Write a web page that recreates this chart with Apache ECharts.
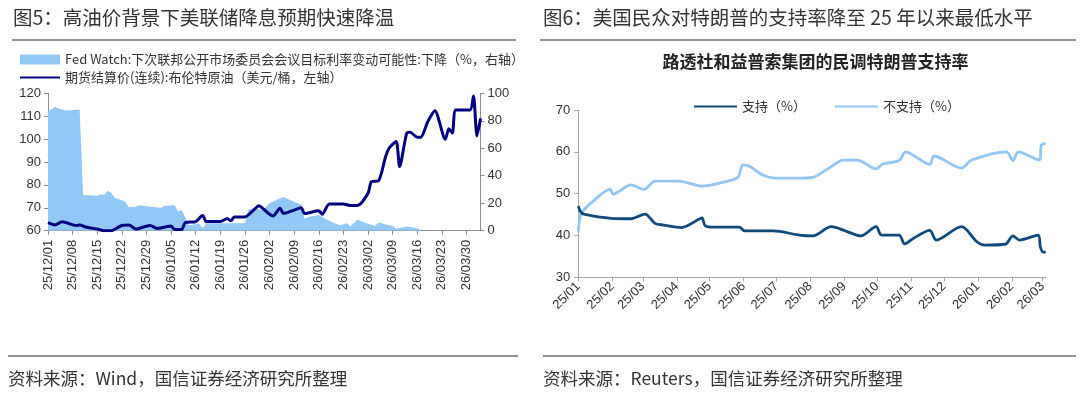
<!DOCTYPE html>
<html><head><meta charset="utf-8">
<script src="https://cdn.jsdelivr.net/npm/echarts@6/dist/echarts.min.js"></script>
<style>html,body{margin:0;padding:0;background:#fff}#c{width:1080px;height:394px}</style>
</head><body><div id="c"></div>
<script>
// ---------- Left chart (图5) ----------
const fedDates = ['25/12/01','25/12/03','25/12/04','25/12/06','25/12/09','25/12/10','25/12/11','25/12/15','25/12/16','25/12/17','25/12/18','25/12/19','25/12/20','25/12/23','25/12/24','25/12/26','25/12/27','25/12/30','26/01/01','26/01/02','26/01/03','26/01/06','26/01/07','26/01/08','26/01/09','26/01/10','26/01/13','26/01/14','26/01/15','26/01/26','26/01/27','26/01/29','26/01/31','26/02/02','26/02/04','26/02/06','26/02/09','26/02/11','26/02/12','26/02/13','26/02/16','26/02/18','26/02/20','26/02/22','26/02/24','26/02/25','26/02/27','26/03/02','26/03/04','26/03/05','26/03/07','26/03/09','26/03/10','26/03/13','26/03/16','26/03/17','26/03/18','26/04/03'];
const fedVals = [87,90,89,87.5,88,88,26,25.5,26.5,26,29,27.5,24,21,17,17.5,18.5,17.5,17,16.5,18,18.5,14,15,10,4,5,2,5.5,5.5,15.5,16.5,14.5,20,22.5,24.5,21,19,8.5,10,11.5,8.5,6,4,5.5,3,8,5,3.5,6,4.5,3.5,1.5,3,1.8,0.3,0,0];

const brentDates = ['25/12/01','25/12/03','25/12/05','25/12/09','25/12/10','25/12/12','25/12/15','25/12/17','25/12/19','25/12/22','25/12/24','25/12/26','25/12/30','26/01/01','26/01/05','26/01/06','26/01/08','26/01/09','26/01/12','26/01/14','26/01/15','26/01/19','26/01/21','26/01/22','26/01/23','26/01/26','26/01/28','26/01/30','26/01/31','26/02/03','26/02/05','26/02/06','26/02/09','26/02/11','26/02/12','26/02/16','26/02/17','26/02/19','26/02/23','26/02/25','26/02/27','26/03/02','26/03/03','26/03/05','26/03/07','26/03/08','26/03/10','26/03/11','26/03/13','26/03/14','26/03/16','26/03/17','26/03/19','26/03/21','26/03/24','26/03/25','26/03/26','26/03/27','26/03/31','26/04/01','26/04/02','26/04/03'];
const brentVals = [63.5,62.5,63.9,62.3,62.5,61.5,60.7,60,60,62.3,62.5,60.7,62.3,61,62,60.5,60.5,63.5,64,66.6,64,64,65.3,64.3,66,66,68.3,70.9,69.8,66.4,69.8,67.5,69,70,67.5,68.7,67.2,71.7,71.7,71,71,76.3,81.4,81.8,92.3,96,98.9,88,102.5,103,100.8,100.8,107.6,112.4,99.9,104.5,102.7,112.7,112.7,118.8,101.4,109];

const weekTicks = ['25/12/01','25/12/08','25/12/15','25/12/22','25/12/29','26/01/05','26/01/12','26/01/19','26/01/26','26/02/02','26/02/09','26/02/16','26/02/23','26/03/02','26/03/09','26/03/16','26/03/23','26/03/30'];
const leftRange = ['25/12/01','26/04/03'];

// ---------- Right chart (图6) ----------
const approveDates = ['25/01/01','25/01/03','25/01/06','25/01/31','25/02/18','25/03/03','25/03/12','25/03/20','25/04/05','25/04/22','25/04/24','25/04/27','25/05/05','25/05/28','25/06/02','25/06/28','25/07/22','25/08/03','25/08/20','25/09/03','25/09/16','25/09/30','25/10/05','25/10/21','25/10/26','25/11/03','25/11/18','25/11/24','25/12/17','25/12/31','26/01/07','26/01/26','26/02/02','26/02/08','26/02/25','26/02/27','26/03/01','26/03/04'];
const approveVals = [47,45.7,45.1,44.1,44,45.1,42.9,42.5,41.9,44,44.2,42.3,42,42,41.1,41.1,40.1,39.9,42.1,41,39.9,42.1,40.1,40.1,38,39.3,41.2,38.9,42.1,38.5,37.7,37.9,39.9,38.9,40.1,37.3,36.1,36];

const disapproveDates = ['25/01/01','25/01/03','25/01/06','25/01/14','25/01/30','25/02/02','25/02/18','25/03/02','25/03/12','25/04/03','25/04/24','25/05/16','25/05/27','25/05/31','25/06/03','25/06/18','25/06/30','25/07/22','25/08/03','25/08/18','25/08/31','25/09/13','25/09/30','25/10/06','25/10/21','25/10/27','25/11/18','25/11/22','25/12/17','25/12/26','26/01/27','26/02/02','26/02/07','26/02/26','26/02/28','26/03/04'];
const disapproveVals = [40.9,44.9,46.1,48.1,51,49.9,52.1,51,53,53,51.8,52.9,54,56.8,56.8,54.5,53.7,53.7,53.9,56.1,58,58,55.9,57.1,57.9,60,57,59,56.1,58,60,57.9,60,58,61.6,62];

const monthTicks = ['25/01','25/02','25/03','25/04','25/05','25/06','25/07','25/08','25/09','25/10','25/11','25/12','26/01','26/02','26/03'];
const rightRange = ['25/01/01','26/03/04'];

// ---------- helpers ----------
const DAY = 86400000;
function ts(s) {
  const p = s.split('/');
  return Date.UTC(2000 + (+p[0]), (+p[1]) - 1, p.length > 2 ? +p[2] : 1);
}
function pad(n) { return (n < 10 ? '0' : '') + n; }
function fmt(t) { const d = new Date(t); return pad(d.getUTCFullYear() % 100) + '/' + pad(d.getUTCMonth() + 1) + '/' + pad(d.getUTCDate()); }
function dayIdx(s, base) { return Math.round((ts(s) - ts(base)) / DAY); }
// left chart: one category per calendar day between the range ends
const leftDays = [];
for (let t = ts(leftRange[0]); t <= ts(leftRange[1]); t += DAY) leftDays.push(fmt(t));
// weekly labels split over two overlaid axes (alternating weeks) so none is culled
const weekSetA = new Set(weekTicks.filter((s, i) => i % 2 === 0));
const weekSetB = new Set(weekTicks.filter((s, i) => i % 2 === 1));
const showA = (i, name) => weekSetA.has(name);
const showB = (i, name) => weekSetB.has(name);
function catPairs(ds, vs) { return ds.map((d, i) => [d, vs[i]]); }
// right chart: day index on a value axis, month ticks at month starts
const R0 = rightRange[0];
const monthIdx = monthTicks.map(s => dayIdx(s, R0));
function idxPairs(ds, vs) { return ds.map((d, i) => [dayIdx(d, R0), vs[i]]); }
function monthLabel(v) {
  const n = +v;
  for (let i = 0; i < monthIdx.length; i++) if (Math.abs(monthIdx[i] - n) < 0.5) return monthTicks[i];
  return '';
}

const CJK = '"Noto Sans CJK SC", sans-serif';
const NUM = '"Liberation Sans", Arial, sans-serif';
const fedName = 'Fed Watch:下次联邦公开市场委员会会议目标利率变动可能性:下降（%，右轴）';
const brentName = '期货结算价(连续):布伦特原油（美元/桶，左轴）';

const axisGrayL = '#8c8c8c';
const axisGrayR = '#a6a6a6';
const noMarker = {opacity: 0};
const weekLabelStyle = {rotate: 90, fontSize: 13, color: '#333', fontFamily: NUM, margin: 9};

const chart = echarts.init(document.getElementById('c'), null, {renderer: 'canvas'});
chart.setOption({
  animation: false,
  backgroundColor: '#fff',
  grid: [
    {left: 48, top: 93.3, width: 432.5, height: 137.4},
    {left: 578.3, top: 110, width: 467.5, height: 167.3}
  ],
  xAxis: [
    {
      type: 'category', gridIndex: 0, data: leftDays, boundaryGap: false, position: 'bottom',
      axisLine: {onZero: false, lineStyle: {color: axisGrayL, width: 1}},
      axisTick: {show: true, interval: showA, length: 4, lineStyle: {color: axisGrayL}},
      axisLabel: Object.assign({interval: showA}, weekLabelStyle),
      splitLine: {show: false}
    },
    {
      type: 'value', gridIndex: 1, min: 0, max: dayIdx(rightRange[1], R0),
      axisLine: {onZero: false, lineStyle: {color: axisGrayR, width: 1}},
      axisTick: {show: true, customValues: monthIdx, length: 4, lineStyle: {color: axisGrayR}},
      axisLabel: {customValues: monthIdx, formatter: monthLabel, rotate: 45, fontSize: 13, color: '#333', fontFamily: NUM, margin: 7},
      splitLine: {show: false}
    },
    {
      type: 'category', gridIndex: 0, data: leftDays, boundaryGap: false, position: 'bottom', offset: 0,
      axisLine: {show: false, onZero: false},
      axisTick: {show: true, interval: showB, length: 4, lineStyle: {color: axisGrayL}},
      axisLabel: Object.assign({interval: showB}, weekLabelStyle),
      splitLine: {show: false}
    }
  ],
  yAxis: [
    {
      type: 'value', gridIndex: 0, min: 60, max: 120, interval: 10, position: 'left',
      axisLine: {show: true, lineStyle: {color: axisGrayL}},
      axisTick: {show: true, length: 4, lineStyle: {color: axisGrayL}},
      axisLabel: {fontSize: 13, color: '#333', fontFamily: NUM, margin: 7},
      splitLine: {show: false}
    },
    {
      type: 'value', gridIndex: 0, min: 0, max: 100, interval: 20, position: 'right',
      axisLine: {show: true, lineStyle: {color: axisGrayL}},
      axisTick: {show: true, length: 4, lineStyle: {color: axisGrayL}},
      axisLabel: {fontSize: 13, color: '#333', fontFamily: NUM, margin: 7},
      splitLine: {show: false}
    },
    {
      type: 'value', gridIndex: 1, min: 30, max: 70, interval: 10, position: 'left',
      axisLine: {show: true, lineStyle: {color: axisGrayR}},
      axisTick: {show: true, length: 4, lineStyle: {color: axisGrayR}},
      axisLabel: {fontSize: 13, color: '#333', fontFamily: NUM, margin: 8},
      splitLine: {show: false}
    }
  ],
  legend: [
    {
      orient: 'vertical', left: 14, top: 48, itemWidth: 40, itemHeight: 10, itemGap: 5,
      textStyle: {fontSize: 13, color: '#333', fontFamily: CJK},
      data: [{name: fedName, icon: 'rect'}, {name: brentName, itemStyle: noMarker}]
    },
    {
      orient: 'horizontal', left: 688, top: 95, itemWidth: 43, itemHeight: 14, itemGap: 28,
      textStyle: {fontSize: 13, color: '#333', fontFamily: CJK},
      data: [{name: '支持（%）', itemStyle: noMarker}, {name: '不支持（%）', itemStyle: noMarker}]
    }
  ],
  series: [
    {
      name: fedName, type: 'line', xAxisIndex: 0, yAxisIndex: 1, data: catPairs(fedDates, fedVals),
      symbol: 'none', lineStyle: {width: 0}, itemStyle: {color: '#92C8F6'},
      areaStyle: {color: '#92C8F6', opacity: 1}, z: 1
    },
    {
      name: brentName, type: 'line', xAxisIndex: 0, yAxisIndex: 0, data: catPairs(brentDates, brentVals),
      symbol: 'none', smooth: 0.25, lineStyle: {width: 3, color: '#000080'}, itemStyle: {color: '#000080'}, z: 3
    },
    {
      name: '支持（%）', type: 'line', xAxisIndex: 1, yAxisIndex: 2, data: idxPairs(approveDates, approveVals),
      symbol: 'none', smooth: 0.3, lineStyle: {width: 2.8, color: '#0F4A7A'}, itemStyle: {color: '#0F4A7A'}, z: 3
    },
    {
      name: '不支持（%）', type: 'line', xAxisIndex: 1, yAxisIndex: 2, data: idxPairs(disapproveDates, disapproveVals),
      symbol: 'none', smooth: 0.3, lineStyle: {width: 2.8, color: '#92C5F1'}, itemStyle: {color: '#92C5F1'}, z: 2
    }
  ],
  graphic: [
    {type: 'text', x: 13, y: 18, style: {text: '图5：高油价背景下美联储降息预期快速降温', font: '19.5px ' + CJK, fill: '#333', verticalAlign: 'middle'}},
    {type: 'line', shape: {x1: 12, y1: 40, x2: 516, y2: 40}, style: {stroke: '#707070', lineWidth: 1.5}},
    {type: 'text', x: 543, y: 18, style: {text: '图6：美国民众对特朗普的支持率降至 25 年以来最低水平', font: '19.5px ' + CJK, fill: '#333', verticalAlign: 'middle'}},
    {type: 'line', shape: {x1: 540, y1: 40, x2: 1076, y2: 40}, style: {stroke: '#707070', lineWidth: 1.5}},
    {type: 'text', x: 815.5, y: 62, style: {text: '路透社和益普索集团的民调特朗普支持率', font: 'bold 17px ' + CJK, fill: '#222', align: 'center', verticalAlign: 'middle'}},
    {type: 'line', shape: {x1: 8, y1: 356, x2: 518, y2: 356}, style: {stroke: '#707070', lineWidth: 1.5}},
    {type: 'line', shape: {x1: 543, y1: 356, x2: 1076, y2: 356}, style: {stroke: '#707070', lineWidth: 1.5}},
    {type: 'text', x: 8, y: 378, style: {text: '资料来源：Wind，国信证券经济研究所整理', font: '17.5px ' + CJK, fill: '#333', verticalAlign: 'middle'}},
    {type: 'text', x: 543, y: 378, style: {text: '资料来源：Reuters，国信证券经济研究所整理', font: '17.5px ' + CJK, fill: '#333', verticalAlign: 'middle'}}
  ]
});
</script>
</body></html>
